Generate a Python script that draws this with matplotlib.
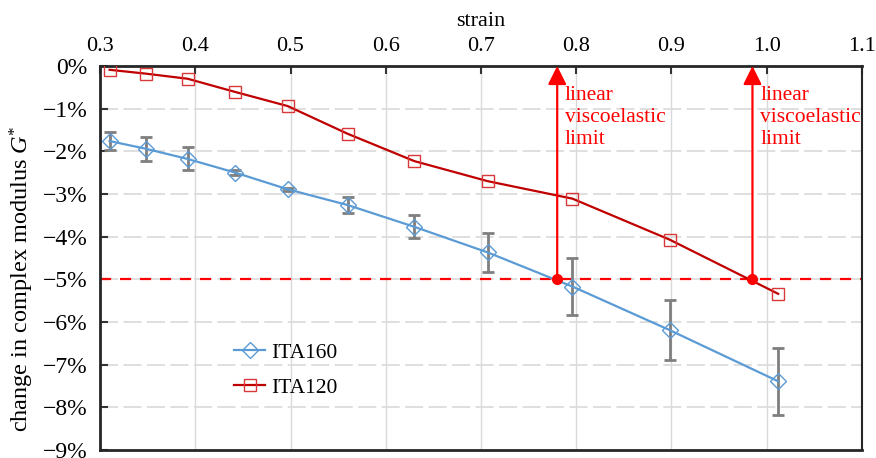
import numpy as np
import matplotlib
matplotlib.use('Agg')
import matplotlib.pyplot as plt
import matplotlib.ticker as mticker

plt.rcParams.update({
    'font.family': ['Liberation Serif', 'DejaVu Serif'],
    'mathtext.fontset': 'custom',
    'mathtext.it': 'Liberation Serif:italic',
    'mathtext.rm': 'Liberation Serif',
    'font.size': 16,
})

# ── Data ──────────────────────────────────────────────────────────────────────
strain = [0.31, 0.348, 0.392, 0.442, 0.497, 0.560, 0.630, 0.707, 0.796, 0.898, 1.012]

ita160 = [-1.76, -1.94, -2.18, -2.50, -2.89, -3.26, -3.77, -4.37, -5.17, -6.19, -7.39]
ita160_err = [0.22, 0.28, 0.27, 0.05, 0.03, 0.19, 0.27, 0.45, 0.67, 0.70, 0.78]

ita120 = [-0.09, -0.18, -0.30, -0.61, -0.94, -1.59, -2.23, -2.70, -3.11, -4.07, -5.34]

lve_strain = [0.780, 0.985]
lve_level = -5.0

# ── Figure ────────────────────────────────────────────────────────────────────
fig = plt.figure(figsize=(8.76, 4.58), dpi=100)
ax = fig.add_axes([0.1142, 0.0175, 0.8698, 0.8385])

ax.set_xlim(0.3, 1.1)
ax.set_ylim(-9, 0)

ax.xaxis.tick_top()
ax.xaxis.set_label_position('top')
ax.xaxis.set_major_locator(mticker.MultipleLocator(0.1))
ax.xaxis.set_major_formatter(mticker.FormatStrFormatter('%.1f'))
ax.yaxis.set_major_locator(mticker.MultipleLocator(1))
ax.yaxis.set_major_formatter(
    mticker.FuncFormatter(lambda v, p: f'{v:.0f}%'.replace('-', '\u2212')))
ax.tick_params(axis='both', direction='in', length=6, width=1.5,
               color='#333333')
ax.tick_params(axis='y', pad=9, labelsize=17)
ax.tick_params(axis='x', pad=7, labelsize=16)

# grid: vertical solid, horizontal dashed
for xv in np.arange(0.4, 1.1, 0.1):
    ax.axvline(xv, color='#d9d9d9', lw=1.0, zorder=0)
for yv in range(-8, 0):
    ax.axhline(yv, color='#dcdcdc', lw=1.3, ls=(0, (10, 3)), zorder=0)

for side in ['top', 'left', 'bottom']:
    ax.spines[side].set_linewidth(2.0)
    ax.spines[side].set_color('#262626')
ax.spines['right'].set_linewidth(1.5)
ax.spines['right'].set_color('#262626')

ax.set_xlabel('strain', fontsize=16, labelpad=8)
ax.set_ylabel('change in complex modulus $\\it{G}$$^{*}$', fontsize=17.5)
ax.yaxis.set_label_coords(-0.084, 0.445)

# threshold line
ax.axhline(lve_level, color='#ff0000', lw=1.6, ls=(0, (5, 4)), zorder=2)

# series
ax.errorbar(strain, ita160, yerr=ita160_err, fmt='none', ecolor='#7f7f7f',
            elinewidth=2.0, capsize=4, capthick=2.0, zorder=3)
ax.plot(strain, ita160, color='#5b9bd5', lw=1.6, marker='D', ms=8,
        mfc='none', mec='#5b9bd5', mew=1.0, label='ITA160', zorder=4)
ax.plot(strain, ita120, color='#c00000', lw=1.6, marker='s', ms=9,
        mfc='none', mec='#d9383a', mew=1.0, label='ITA120', zorder=4)

# linear viscoelastic limit arrows
for xs in lve_strain:
    ax.annotate('', xy=(xs, 0), xytext=(xs, lve_level),
                arrowprops=dict(arrowstyle='-|>,head_length=0.7,head_width=0.35',
                                color='#ff0000', lw=1.6, shrinkA=0, shrinkB=0),
                zorder=5, annotation_clip=False)
    ax.plot([xs], [lve_level], 'o', color='#ff0000', ms=7, zorder=6)
    ax.text(xs + 0.008, -0.47, 'linear\nviscoelastic\nlimit', color='#ff0000',
            fontsize=15.5, ha='left', va='top', linespacing=1.2, zorder=6)

ax.legend(loc='lower left', bbox_to_anchor=(0.151, 0.085), frameon=False,
          fontsize=15.5, handlelength=1.4, handletextpad=0.3, labelspacing=0.7)

fig.savefig('out.png', dpi=100, facecolor='white')
